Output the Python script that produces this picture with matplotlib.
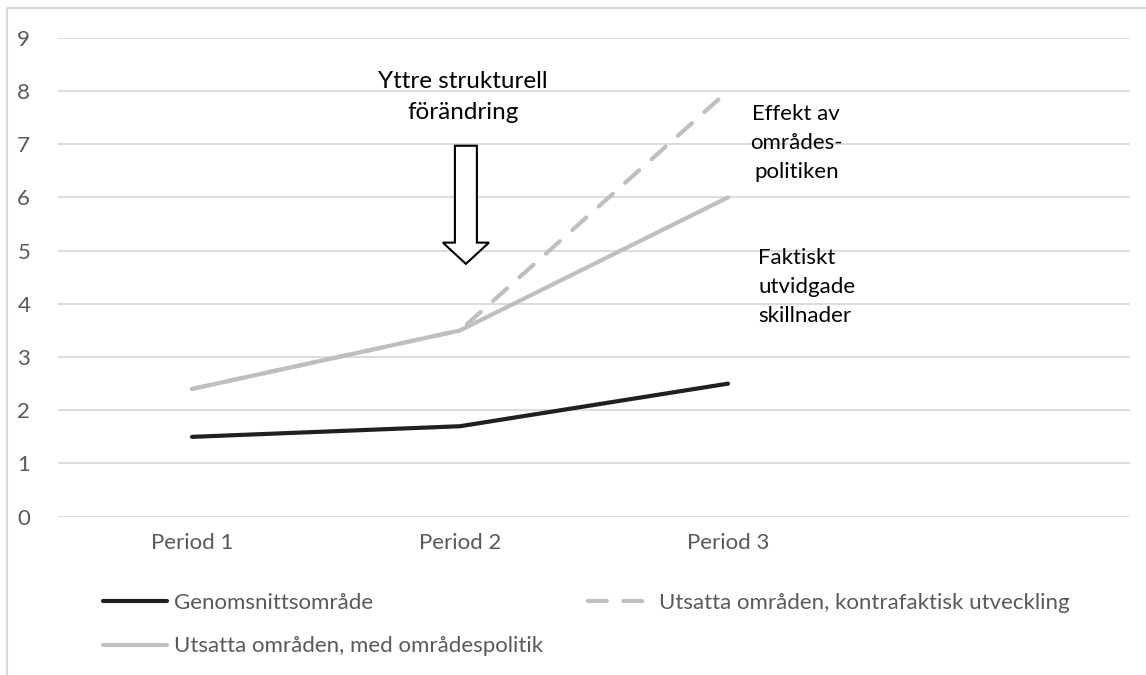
import numpy as np
import matplotlib
matplotlib.use("Agg")
import matplotlib.pyplot as plt
from matplotlib.patches import FancyArrow, Rectangle
from matplotlib.lines import Line2D

plt.rcParams['font.family'] = ['Lato', 'DejaVu Sans']

# data
periods = ['Period 1', 'Period 2', 'Period 3', '']
genomsnitt = [1.5, 1.7, 2.5, np.nan]
kontrafaktisk = [2.4, 3.5, 8.0, np.nan]
med_politik = [2.4, 3.5, 6.0, np.nan]
series_names = ['Genomsnittsområde',
                'Utsatta områden, kontrafaktisk utveckling',
                'Utsatta områden, med områdespolitik']

black = '#231f20'
grey = '#bfbfbf'
textgrey = '#595959'

fig = plt.figure(figsize=(11.46, 6.75), dpi=100, facecolor='w')
# chart border (Excel style)
fig.patches.append(Rectangle((7/1146, -0.01), 1.2, 1 - 8/675 + 0.01,
                             transform=fig.transFigure, fill=False,
                             edgecolor='#d9d9d9', lw=1.5))

ax = fig.add_axes([58/1146, 1-516.7/675, (1130-58)/1146, (516.7-37.7)/675])
x = np.arange(len(periods))

ax.plot(x, kontrafaktisk, color=grey, lw=3.0, ls=(0, (4.5, 4.0)),
        dash_capstyle='round', solid_capstyle='round', zorder=3)
ax.plot(x, med_politik, color=grey, lw=3.0, solid_capstyle='round', zorder=4)
ax.plot(x, genomsnitt, color=black, lw=3.0, solid_capstyle='round', zorder=5)

ax.set_xlim(-0.5, len(periods)-0.5)
ax.set_ylim(0, 9)
ax.set_yticks(range(0, 10))
ax.set_xticks(x)
ax.set_xticklabels(periods)
ax.grid(axis='y', color='#d9d9d9', lw=1.3)
ax.set_axisbelow(True)
for s in ax.spines.values():
    s.set_visible(False)
ax.tick_params(length=0, labelsize=16, labelcolor=textgrey)
ax.tick_params(axis='y', pad=20)
ax.tick_params(axis='x', pad=12)

# annotations
ax.text(1.01, 7.89, 'Yttre strukturell\nförändring', ha='center', va='center',
        fontsize=17.5, color='black', linespacing=1.6)
ax.add_patch(FancyArrow(1.022, 6.97, 0, -2.22, width=0.082, head_width=0.172,
                        head_length=0.4, length_includes_head=True,
                        facecolor='white', edgecolor='black', lw=1.5, zorder=6))
ax.text(2.255, 7.02, 'Effekt av\nområdes-\npolitiken', ha='center', va='center',
        fontsize=16, color='black', linespacing=1.55)
ax.text(2.112, 4.32, 'Faktiskt\nutvidgade\nskillnader', ha='left', va='center',
        fontsize=16, color='black', linespacing=1.55)

# legend
handles = [Line2D([], [], color=black, lw=3.0, solid_capstyle='round'),
           Line2D([], [], color=grey, lw=3.0, solid_capstyle='round'),
           Line2D([], [], color=grey, lw=3.0, ls=(0, (4.5, 4.0)), dash_capstyle='round')]
labels = [series_names[0], series_names[2], series_names[1]]
leg = fig.legend(handles, labels, ncol=2, loc='upper left',
                 bbox_to_anchor=(83/1146, 1-573/675), frameon=False,
                 fontsize=16, handlelength=2.9, handletextpad=0.3,
                 columnspacing=2.0, labelspacing=1.05)
for t in leg.get_texts():
    t.set_color(textgrey)

fig.savefig('out.png', dpi=100)
